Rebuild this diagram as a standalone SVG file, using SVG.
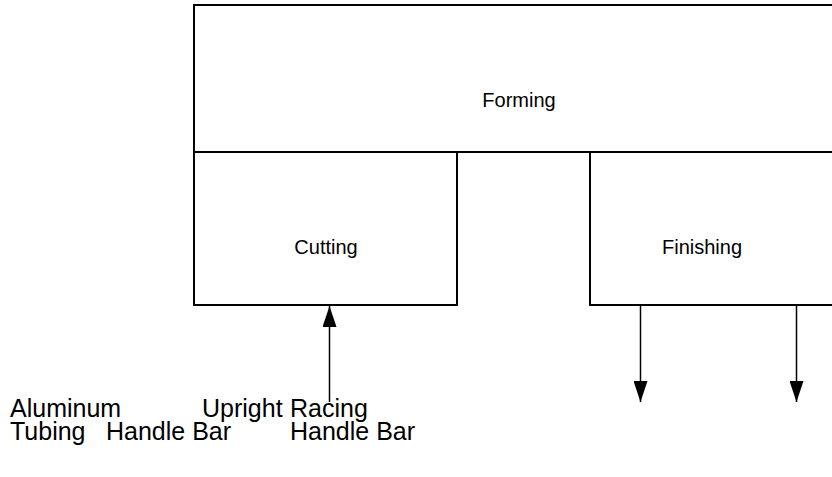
<svg xmlns="http://www.w3.org/2000/svg" width="832" height="477" viewBox="0 0 832 477">
  <style>
    .box { fill: #ffffff; stroke: #000000; stroke-width: 2; }
    .lbl { font-family: "Liberation Sans", Arial, sans-serif; font-size: 20px; fill: #000000; text-anchor: middle; }
    .note { font-family: "Liberation Sans", Arial, sans-serif; font-size: 25px; fill: #000000; }
    .flow { stroke: #000000; stroke-width: 1.5; fill: none; }
  </style>
  <defs>
    <!-- solid triangular arrowhead, 21 long by 14 wide -->
    <marker id="head" viewBox="0 0 21 14" refX="21" refY="7" markerWidth="21" markerHeight="14" markerUnits="userSpaceOnUse" orient="auto">
      <path d="M0,0 L21,7 L0,14 Z" fill="#000000"/>
    </marker>
  </defs>
  <rect width="832" height="477" fill="#ffffff"/>

  <g id="forming">
    <rect class="box" x="194" y="5" width="650" height="147"/>
    <text class="lbl" x="519" y="107">Forming</text>
  </g>
  <g id="cutting">
    <rect class="box" x="194" y="152" width="263" height="153"/>
    <text class="lbl" x="326" y="254">Cutting</text>
  </g>
  <g id="finishing">
    <rect class="box" x="590" y="152" width="254" height="153"/>
    <text class="lbl" x="702" y="254">Finishing</text>
  </g>

  <g id="connectors">
    <path class="flow" d="M329.5,402 L329.5,306" marker-end="url(#head)"/>
    <path class="flow" d="M640.5,306 L640.5,402" marker-end="url(#head)"/>
    <path class="flow" d="M796.5,306 L796.5,402" marker-end="url(#head)"/>
  </g>

  <g id="materials">
    <text class="note" x="10" y="417">Aluminum</text>
    <text class="note" x="202" y="417">Upright</text>
    <text class="note" x="290" y="417">Racing</text>
    <text class="note" x="10" y="440">Tubing</text>
    <text class="note" x="106" y="440">Handle Bar</text>
    <text class="note" x="290" y="440">Handle Bar</text>
  </g>
</svg>
